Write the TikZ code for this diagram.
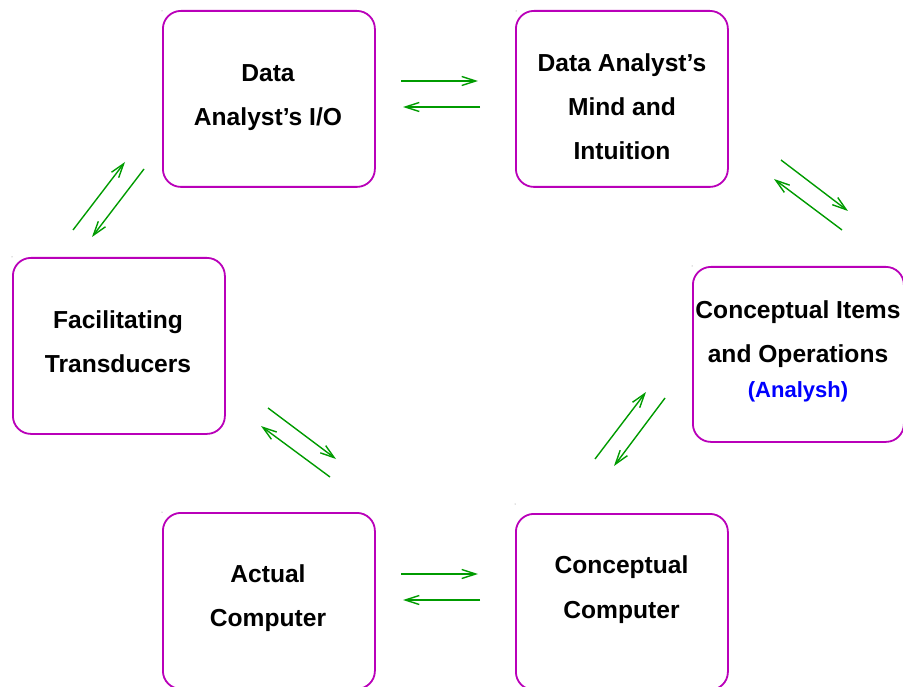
\documentclass[tikz,border=0pt]{standalone}
\usepackage{fontspec}
\setmainfont{Liberation Sans}
\usetikzlibrary{arrows.meta}
\definecolor{boxmag}{RGB}{185,0,185}
\definecolor{arrgreen}{RGB}{0,155,0}
\definecolor{labblue}{RGB}{0,0,255}
\begin{document}
\begin{tikzpicture}[x=1pt,y=-1pt,
  stagebox/.style={draw=boxmag, line width=1.8pt, rounded corners=18pt, minimum width=212pt, minimum height=176pt, inner sep=0pt, anchor=north west},
  lbl/.style={font=\fontsize{24.6}{29}\selectfont\bfseries, anchor=base, inner sep=0pt},
  blbl/.style={font=\fontsize{22}{26}\selectfont\bfseries, text=labblue, anchor=base, inner sep=0pt},
  flow/.style={draw=arrgreen, line width=1.4pt, -{Straight Barb[length=14pt,width=9pt]}},
  cornerdot/.style={fill=gray, circle, inner sep=0pt, minimum size=1pt}
]
\useasboundingbox (0,0) rectangle (903,687);

% boxes
\node[stagebox] (io) at (162,10) {};
\node[stagebox] (mind) at (515,10) {};
\node[stagebox] (fac) at (12,257) {};
\node[stagebox, minimum width=211pt, minimum height=175pt] (items) at (692,266) {};
\node[stagebox] (actual) at (162,512) {};
\node[stagebox] (concomp) at (515,513) {};

% corner dots
\node[cornerdot] (d1) at (162,11) {};
\node[cornerdot] (d2) at (516,11) {};
\node[cornerdot] (d3) at (12,257) {};
\node[cornerdot] (d4) at (692,266) {};
\node[cornerdot] (d5) at (162,512) {};
\node[cornerdot] (d6) at (515,504) {};

% labels
\node[lbl] (ioa) at (268,81.8) {Data};
\node[lbl] (iob) at (268,125.8) {Analyst’s I/O};
\node[lbl] (minda) at (622,71.8) {Data Analyst’s};
\node[lbl] (mindb) at (622,115.6) {Mind and};
\node[lbl] (mindc) at (622,160) {Intuition};
\node[lbl] (faca) at (118,328.3) {Facilitating};
\node[lbl] (facb) at (118,372.3) {Transducers};
\node[lbl] (itemsa) at (798,318.3) {Conceptual Items};
\node[lbl] (itemsb) at (798,362.3) {and Operations};
\node[blbl] (itemsc) at (798,397.5) {(Analysh)};
\node[lbl] (actuala) at (268,582.3) {Actual};
\node[lbl] (actualb) at (268,626.7) {Computer};
\node[lbl] (concompa) at (621.5,573.3) {Conceptual};
\node[lbl] (concompb) at (621.5,618.3) {Computer};

% arrow end points
\coordinate (t1s) at (401,81);  \coordinate (t1e) at (478,81);
\coordinate (t2s) at (480,107); \coordinate (t2e) at (403,107);
\coordinate (b1s) at (401,574); \coordinate (b1e) at (478,574);
\coordinate (b2s) at (480,600); \coordinate (b2e) at (403,600);
\coordinate (l1s) at (73,230);  \coordinate (l1e) at (125,162);
\coordinate (l2s) at (144,169); \coordinate (l2e) at (92,237);
\coordinate (r1s) at (781,160); \coordinate (r1e) at (848,211);
\coordinate (r2s) at (842,230); \coordinate (r2e) at (774,179);
\coordinate (bl1s) at (268,408); \coordinate (bl1e) at (336,459);
\coordinate (bl2s) at (330,477); \coordinate (bl2e) at (261,426);
\coordinate (br1s) at (595,459); \coordinate (br1e) at (646,392);
\coordinate (br2s) at (665,398); \coordinate (br2e) at (614,466);

\draw[flow] (t1s) -- (t1e);
\draw[flow] (t2s) -- (t2e);
\draw[flow] (b1s) -- (b1e);
\draw[flow] (b2s) -- (b2e);
\draw[flow] (l1s) -- (l1e);
\draw[flow] (l2s) -- (l2e);
\draw[flow] (r1s) -- (r1e);
\draw[flow] (r2s) -- (r2e);
\draw[flow] (bl1s) -- (bl1e);
\draw[flow] (bl2s) -- (bl2e);
\draw[flow] (br1s) -- (br1e);
\draw[flow] (br2s) -- (br2e);
\end{tikzpicture}
\end{document}
